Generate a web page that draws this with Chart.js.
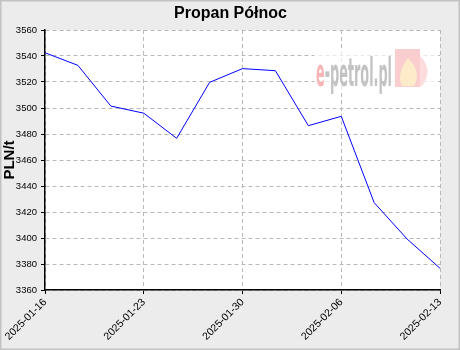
<!DOCTYPE html>
<html>
<head>
<meta charset="utf-8">
<script src="https://cdn.jsdelivr.net/npm/chart.js@4.4.1/dist/chart.umd.min.js"></script>
<style>
  html, body { margin: 0; padding: 0; background: #ececec; }
  canvas { display: block; }
</style>
</head>
<body>
<canvas id="wykres" width="460" height="350"></canvas>
<script>
const daty = [
    "2025-01-16", "2025-01-18", "2025-01-21", "2025-01-23", "2025-01-25",
    "2025-01-28", "2025-01-30", "2025-02-01", "2025-02-04", "2025-02-06",
    "2025-02-08", "2025-02-11", "2025-02-13"
];
const ceny = [3542.5, 3532.8, 3501.5, 3496, 3476.7, 3519.7, 3530.3, 3528.7, 3486.4, 3493.6, 3427.2, 3399.2, 3376.7];
const yMin = 3360;
const yMax = 3560;

const tlo = {
    id: "tlo",
    beforeDraw(chart) {
        const { ctx, chartArea: a, width, height } = chart;
        ctx.save();
        ctx.fillStyle = "#ececec";
        ctx.fillRect(0, 0, width, height);
        ctx.fillStyle = "#ffffff";
        ctx.fillRect(a.left, a.top, a.right - a.left, a.bottom - a.top);
        ctx.strokeStyle = "#c2c2c2";
        ctx.lineWidth = 1.5;
        ctx.strokeRect(0.75, 0.75, width - 1.5, height - 1.5);
        ctx.restore();
    }
};

// znak wodny e-petrol.pl
const znak = {
    id: "znak",
    beforeDatasetsDraw(chart) {
        const ctx = chart.ctx;
        ctx.save();
        ctx.globalAlpha = 0.85;
        ctx.fillStyle = "rgba(255,255,255,0.8)";
        ctx.fillRect(314, 48, 124, 42);
        ctx.fillStyle = "#f9c6c6";
        ctx.fillRect(395, 49, 25, 38);
        ctx.fillStyle = "#fdf0c8";
        ctx.beginPath();
        ctx.moveTo(408, 58);
        ctx.quadraticCurveTo(422, 72, 414, 86);
        ctx.lineTo(402, 86);
        ctx.quadraticCurveTo(396, 74, 408, 58);
        ctx.fill();
        ctx.fillStyle = "#fbd6d6";
        ctx.beginPath();
        ctx.moveTo(420, 56);
        ctx.quadraticCurveTo(434, 70, 422, 86);
        ctx.lineTo(420, 86);
        ctx.fill();

        ctx.font = "bold 30px 'DejaVu Sans Condensed'";
        const t1 = "e";
        const t2 = "-petrol.pl";
        const w = ctx.measureText(t1 + t2).width;
        const sx = 76 / w;
        ctx.translate(316, 86);
        ctx.scale(sx, 1.3);
        ctx.textBaseline = "alphabetic";
        ctx.fillStyle = "#f7a8a8";
        ctx.fillText(t1, 0, 0);
        ctx.fillStyle = "#b8b8b8";
        ctx.fillText(t2, ctx.measureText(t1).width, 0);
        ctx.restore();
    }
};

const siatka = "#b9b9b9";

new Chart(document.getElementById("wykres"), {
    type: "line",
    data: {
        labels: daty,
        datasets: [{
            data: ceny,
            borderColor: "#0000ff",
            borderWidth: 1,
            pointRadius: 0,
            tension: 0,
            fill: false
        }]
    },
    options: {
        responsive: false,
        animation: false,
        devicePixelRatio: 1,
        layout: { padding: { left: 1, right: 0, top: 0, bottom: 0 } },
        plugins: {
            legend: { display: false },
            tooltip: { enabled: false },
            title: {
                display: true,
                text: "Propan Północ",
                color: "#000",
                font: { family: "'Liberation Sans', Arial", size: 16, weight: "bold" },
                padding: { top: 4, bottom: 6.8 }
            }
        },
        scales: {
            x: {
                offset: false,
                afterFit: s => { s.height = 60; },
                border: { display: true, color: "#000", width: 1.5, dash: [4, 3] },
                grid: {
                    offset: false,
                    color: c => (c.index % 3 === 0 ? siatka : "transparent"),
                    tickColor: c => (c.index % 3 === 0 ? "#000" : "transparent"),
                    tickLength: 4,
                    tickBorderDash: []
                },
                ticks: {
                    autoSkip: false,
                    minRotation: 45,
                    maxRotation: 45,
                    padding: 2,
                    color: "#000",
                    font: { family: "'Liberation Sans', Arial", size: 10.5 },
                    callback: function (v, i) { return i % 3 === 0 ? daty[i] : ""; }
                }
            },
            y: {
                min: yMin,
                max: yMax,
                afterFit: s => { s.width = 44; },
                border: { display: true, color: "#000", width: 1.5, dash: [4, 3] },
                grid: {
                    color: c => (c.tick && c.tick.value % 20 === 0 ? siatka : "transparent"),
                    tickColor: "#000",
                    tickLength: 4,
                    tickBorderDash: []
                },
                ticks: {
                    stepSize: 10,
                    padding: 4,
                    color: "#000",
                    font: { family: "'Liberation Sans', Arial", size: 9.5 },
                    callback: v => (v % 20 === 0 ? v : "")
                },
                title: {
                    display: true,
                    text: "PLN/t",
                    color: "#000",
                    padding: 0,
                    font: { family: "'Liberation Sans', Arial", size: 15, weight: "bold" }
                }
            },
            prawa: {
                type: "linear",
                position: "right",
                afterFit: s => { s.width = 20; },
                grid: { display: false, drawOnChartArea: false },
                border: { display: false },
                ticks: { display: false }
            }
        }
    },
    plugins: [tlo, znak]
});
</script>
</body>
</html>
